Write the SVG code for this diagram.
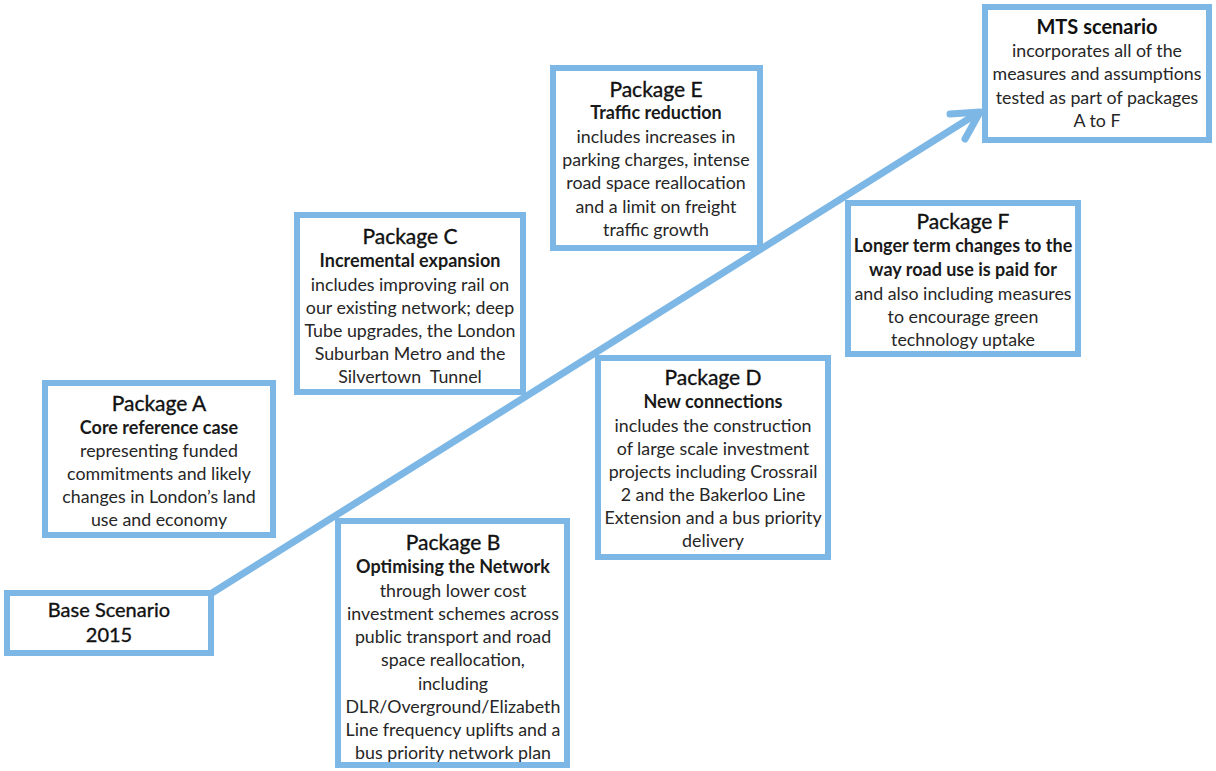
<svg xmlns="http://www.w3.org/2000/svg" width="1216" height="771" viewBox="0 0 1216 771">
  <style>
    .box { fill: #ffffff; stroke: #7db7e5; stroke-width: 6; }
    .conn { fill: none; stroke: #7db7e5; stroke-width: 7; stroke-linecap: round; stroke-linejoin: round; }
    text { font-family: Lato, "Open Sans", "Liberation Sans", sans-serif; fill: #1a1a1a; text-anchor: middle; }
    .t { font-size: 21px; fill: #111111; stroke: #111111; stroke-width: 0.35; }
    .m { font-size: 20px; font-weight: bold; fill: #111111; }
    .s { font-size: 18px; font-weight: bold; }
    .b { font-size: 17.8px; fill: #262626; }
  </style>
  <rect width="1216" height="771" fill="#ffffff"/>

  <!-- rising progression line with open arrowhead -->
  <g id="connectors">
    <path class="conn" d="M 212 593 L 978 113"/>
    <path class="conn" d="M 950 114 L 980 112 L 965 139"/>
  </g>

  <g id="base">
    <rect class="box" x="7" y="593" width="204" height="60"/>
    <text class="t" x="109" y="617" style="font-size:20px">Base Scenario</text>
    <text class="t" x="109" y="642" style="font-size:20px">2015</text>
  </g>

  <g id="packageA">
    <rect class="box" x="45" y="383" width="228" height="152"/>
    <text class="t" x="159" y="411">Package A</text>
    <text class="s" x="159" y="434">Core reference case</text>
    <text class="b" x="159" y="457">representing funded</text>
    <text class="b" x="159" y="480">commitments and likely</text>
    <text class="b" x="159" y="503">changes in London’s land</text>
    <text class="b" x="159" y="526">use and economy</text>
  </g>

  <g id="packageB">
    <rect class="box" x="338" y="521" width="229" height="244"/>
    <text class="t" x="453" y="550">Package B</text>
    <text class="s" x="453" y="573">Optimising the Network</text>
    <text class="b" x="453" y="597">through lower cost</text>
    <text class="b" x="453" y="620">investment schemes across</text>
    <text class="b" x="453" y="643">public transport and road</text>
    <text class="b" x="453" y="666">space reallocation,</text>
    <text class="b" x="453" y="690">including</text>
    <text class="b" x="453" y="713">DLR/Overground/Elizabeth</text>
    <text class="b" x="453" y="736">Line frequency uplifts and a</text>
    <text class="b" x="453" y="759">bus priority network plan</text>
  </g>

  <g id="packageC">
    <rect class="box" x="297" y="215" width="226" height="177"/>
    <text class="t" x="410" y="244">Package C</text>
    <text class="s" x="410" y="267">Incremental expansion</text>
    <text class="b" x="410" y="291">includes improving rail on</text>
    <text class="b" x="410" y="314">our existing network; deep</text>
    <text class="b" x="410" y="337">Tube upgrades, the London</text>
    <text class="b" x="410" y="360">Suburban Metro and the</text>
    <text class="b" x="410" y="383" xml:space="preserve">Silvertown  Tunnel</text>
  </g>

  <g id="packageD">
    <rect class="box" x="598" y="358" width="230" height="199"/>
    <text class="t" x="713" y="385">Package D</text>
    <text class="s" x="713" y="408">New connections</text>
    <text class="b" x="713" y="432">includes the construction</text>
    <text class="b" x="713" y="455">of large scale investment</text>
    <text class="b" x="713" y="478">projects including Crossrail</text>
    <text class="b" x="713" y="501">2 and the Bakerloo Line</text>
    <text class="b" x="713" y="524">Extension and a bus priority</text>
    <text class="b" x="713" y="547">delivery</text>
  </g>

  <g id="packageE">
    <rect class="box" x="553" y="68" width="207" height="180"/>
    <text class="t" x="656" y="97">Package E</text>
    <text class="s" x="656" y="119">Traffic reduction</text>
    <text class="b" x="656" y="143">includes increases in</text>
    <text class="b" x="656" y="166">parking charges, intense</text>
    <text class="b" x="656" y="189">road space reallocation</text>
    <text class="b" x="656" y="213">and a limit on freight</text>
    <text class="b" x="656" y="236">traffic growth</text>
  </g>

  <g id="packageF">
    <rect class="box" x="848" y="203" width="230" height="151"/>
    <text class="t" x="963" y="229">Package F</text>
    <text class="s" x="963" y="252">Longer term changes to the</text>
    <text class="s" x="963" y="276">way road use is paid for</text>
    <text class="b" x="963" y="300">and also including measures</text>
    <text class="b" x="963" y="323">to encourage green</text>
    <text class="b" x="963" y="346">technology uptake</text>
  </g>

  <g id="mts">
    <rect class="box" x="985" y="7" width="224" height="133"/>
    <text class="m" x="1097" y="34">MTS scenario</text>
    <text class="b" x="1097" y="57">incorporates all of the</text>
    <text class="b" x="1097" y="80">measures and assumptions</text>
    <text class="b" x="1097" y="104">tested as part of packages</text>
    <text class="b" x="1097" y="127">A to F</text>
  </g>
</svg>
